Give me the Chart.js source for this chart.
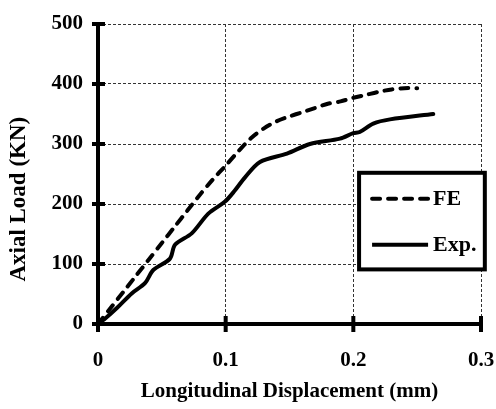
<!DOCTYPE html>
<html>
<head>
<meta charset="utf-8">
<script src="https://cdn.jsdelivr.net/npm/chart.js@4.4.1/dist/chart.umd.min.js"></script>
<style>
html,body{margin:0;padding:0;background:#fff;}
#wrap{width:496px;height:409px;}
</style>
</head>
<body>
<div id="wrap"><canvas id="c" width="496" height="409"></canvas></div>
<script>
// ---- data ----
const xTicks = [0, 0.1, 0.2, 0.3];
const yTicks = [0, 100, 200, 300, 400, 500];
const feX = [0, 0.01, 0.02, 0.03, 0.04, 0.05, 0.06, 0.07, 0.08, 0.09, 0.1, 0.11, 0.12, 0.13, 0.14, 0.15, 0.16, 0.17, 0.18, 0.19, 0.2, 0.21, 0.22, 0.23, 0.24, 0.25];
const feY = [0, 27, 54, 81, 108, 135, 162, 189, 216, 241, 264, 288, 310, 326, 338, 346, 353, 360, 367, 371, 377, 382, 387, 391, 393, 393];
const expX = [0, 0.005, 0.015, 0.0264, 0.0368, 0.0433, 0.0564, 0.0603, 0.0734, 0.0864, 0.0995, 0.107, 0.115, 0.1269, 0.148, 0.166, 0.1895, 0.2, 0.205, 0.2156, 0.2287, 0.2626];
const expY = [0, 8, 27, 51, 68, 90, 109, 132, 151, 184, 204, 222, 244, 270, 284, 300, 309, 318, 320, 334, 341, 350];
const seriesNames = ['FE', 'Exp.'];
const xTitle = 'Longitudinal Displacement (mm)';
const yTitle = 'Axial Load (KN)';

const toPts = (xs, ys) => xs.map((x, i) => ({x: x, y: ys[i]}));
const FONT = '"Liberation Serif", "Times New Roman", serif';

// solid axis lines + crossing tick marks
const axesDeco = {
  id: 'axesDeco',
  afterDatasetsDraw(chart) {
    const ctx = chart.ctx;
    const xs = chart.scales.x, ys = chart.scales.y;
    const a = chart.chartArea;
    ctx.save();
    ctx.fillStyle = '#000';
    ctx.fillRect(a.left - 2, a.top, 4, a.bottom - a.top + 2);
    ctx.fillRect(a.left - 2, a.bottom - 2, a.right - a.left + 4, 4);
    yTicks.forEach(v => {
      const py = ys.getPixelForValue(v);
      ctx.fillRect(a.left - 6, py - 2, 13, 4);
    });
    xTicks.forEach(v => {
      const px = xs.getPixelForValue(v);
      ctx.fillRect(px - 2, a.bottom - 8, 4, 16);
    });
    ctx.restore();
  }
};

// y-axis title drawn at its measured place
const yTitleDraw = {
  id: 'yTitleDraw',
  afterDraw(chart) {
    const ctx = chart.ctx;
    const ys = chart.scales.y;
    ctx.save();
    ctx.translate(19, ys.getPixelForValue(208));
    ctx.rotate(-Math.PI / 2);
    ctx.font = 'bold 23px ' + FONT;
    ctx.fillStyle = '#000';
    ctx.textAlign = 'center';
    ctx.textBaseline = 'middle';
    ctx.fillText(yTitle, 0, 0);
    ctx.restore();
  }
};

const boxLegend = {
  id: 'boxLegend',
  afterDraw(chart) {
    const ctx = chart.ctx;
    const xs = chart.scales.x, ys = chart.scales.y;
    const left = xs.getPixelForValue(0.2045);
    const right = xs.getPixelForValue(0.303);
    const top = ys.getPixelForValue(252);
    const bottom = ys.getPixelForValue(91);
    ctx.save();
    ctx.fillStyle = '#fff';
    ctx.fillRect(left, top, right - left, bottom - top);
    ctx.lineWidth = 4;
    ctx.strokeStyle = '#000';
    ctx.strokeRect(left, top, right - left, bottom - top);
    const ds = chart.data.datasets;
    const rows = [top + 26, top + 72];
    ds.forEach((d, i) => {
      const y = rows[i];
      ctx.beginPath();
      ctx.lineWidth = 4;
      ctx.setLineDash(d.borderDash || []);
      ctx.lineCap = d.borderDash ? 'round' : 'butt';
      ctx.moveTo(left + 13, y);
      ctx.lineTo(left + 69, y);
      ctx.stroke();
      ctx.setLineDash([]);
      ctx.fillStyle = '#000';
      ctx.font = 'bold 22px ' + FONT;
      ctx.textBaseline = 'middle';
      ctx.textAlign = 'left';
      ctx.fillText(d.label, left + 74, y + 1);
    });
    ctx.restore();
  }
};

new Chart(document.getElementById('c'), {
  type: 'scatter',
  data: {
    datasets: [
      {label: seriesNames[0], data: toPts(feX, feY), showLine: true, borderColor: '#000', backgroundColor: '#000', borderWidth: 4, borderDash: [8, 8], borderCapStyle: 'round', pointRadius: 0, tension: 0.3, fill: false},
      {label: seriesNames[1], data: toPts(expX, expY), showLine: true, borderColor: '#000', backgroundColor: '#000', borderWidth: 4, borderCapStyle: 'round', pointRadius: 0, tension: 0.3, fill: false}
    ]
  },
  options: {
    responsive: false,
    animation: false,
    layout: {padding: {top: 24, right: 15, left: 0, bottom: 0}},
    plugins: {legend: {display: false}, tooltip: {enabled: false}},
    scales: {
      x: {
        type: 'linear', min: 0, max: 0.3,
        afterBuildTicks: s => { s.ticks = xTicks.map(v => ({value: v})); },
        afterFit: s => { s.height = 85; s.paddingRight = 0; s.paddingLeft = 0; },
        ticks: {color: '#000', padding: 24, maxRotation: 0, font: {family: FONT, size: 21, weight: 'bold'},
                callback: v => String(v)},
        grid: {color: '#333', lineWidth: 1, drawTicks: false},
        border: {display: false, dash: [3, 2]},
        title: {display: true, text: xTitle, color: '#000', padding: {top: 0, bottom: 5}, font: {family: FONT, size: 21, weight: 'bold'}}
      },
      y: {
        type: 'linear', min: 0, max: 500,
        afterBuildTicks: s => { s.ticks = yTicks.map(v => ({value: v})); },
        afterFit: s => { s.width = 98; s.paddingTop = 0; s.paddingBottom = 0; },
        ticks: {color: '#000', padding: 15, font: {family: FONT, size: 21, weight: 'bold'}},
        grid: {color: '#333', lineWidth: 1, drawTicks: false},
        border: {display: false, dash: [3, 2]},
        title: {display: false, text: yTitle}
      }
    }
  },
  plugins: [axesDeco, yTitleDraw, boxLegend]
});
</script>
</body>
</html>
